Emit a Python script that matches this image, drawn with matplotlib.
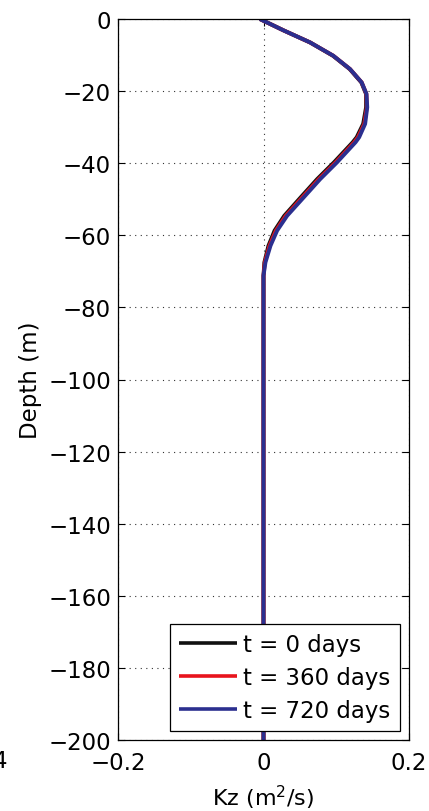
import matplotlib
matplotlib.use("Agg")
import matplotlib.pyplot as plt

plt.rcParams['font.family'] = ['DejaVu Sans']
plt.rcParams['mathtext.fontset'] = 'dejavusans'

# Depth (m) and Kz (m^2/s) profiles
depth = [0, -3.2, -6.5, -10.2, -13.9, -17.6, -20.8, -24.5, -29.1, -32.8, -34.2,
         -39.8, -44.4, -49.5, -54.6, -58.7, -62.9, -67.5, -71.2, -200]
kz_720 = [-0.005, 0.028, 0.064, 0.096, 0.119, 0.135, 0.1416, 0.1426, 0.1397, 0.1315, 0.1265,
          0.1009, 0.078, 0.0552, 0.0324, 0.0187, 0.0096, 0.0027, 0.0, 0.0]
kz_360 = [-0.005, 0.028, 0.064, 0.096, 0.119, 0.135, 0.1414, 0.1420, 0.1385, 0.1298, 0.1246,
          0.0990, 0.0760, 0.0532, 0.0305, 0.0170, 0.0082, 0.0018, 0.0, 0.0]
kz_0 = [-0.005, 0.028, 0.064, 0.0955, 0.1185, 0.1345, 0.1410, 0.1410, 0.1370, 0.1281, 0.1226,
        0.0967, 0.0738, 0.0510, 0.0285, 0.0152, 0.0068, 0.0012, 0.0, 0.0]
labels = ['t = 0 days', 't = 360 days', 't = 720 days']
colors = ['#111111', '#e8141c', '#2b2f8f']

fig = plt.figure(figsize=(4.29, 8.12), dpi=100)
ax = fig.add_axes([118/429, 1 - 741/812, (409-118)/429, (741-20)/812])

for kz, lab, c in zip([kz_0, kz_360, kz_720], labels, colors):
    ax.plot(kz, depth, color=c, lw=2.8, label=lab, solid_capstyle='butt', solid_joinstyle='round')

ax.set_xlim(-0.2, 0.2)
ax.set_ylim(-200, 0)
ax.set_xticks([-0.2, 0, 0.2])
ax.set_xticklabels(['\u22120.2', '0', '0.2'])
yt = list(range(-200, 1, 20))
ax.set_yticks(yt)
ax.set_yticklabels([('\u2212' + str(-v)) if v < 0 else str(v) for v in yt])
ax.tick_params(direction='in', top=True, right=True, labelsize=16.5, length=5, width=0.8)
ax.tick_params(axis='x', pad=8)
ax.tick_params(axis='y', pad=5)
ax.grid(True, linestyle=(0, (1, 4)), color='#333333', lw=0.8)
for s in ax.spines.values():
    s.set_linewidth(0.9)

ax.set_xlabel('Kz (m$^2$/s)', fontsize=16)
ax.xaxis.set_label_coords(0.5, (741 - 784) / 721)
ax.set_ylabel('Depth (m)', fontsize=16.5)
ax.yaxis.set_label_coords((42 - 118) / 291, 0.5)

leg = ax.legend(loc='lower right', fontsize=16.5, frameon=True, fancybox=False,
                edgecolor='black', framealpha=1.0, handlelength=2.5, handletextpad=0.3,
                borderaxespad=0.4, labelspacing=0.42, borderpad=0.4)
leg.get_frame().set_linewidth(0.9)
for ln in leg.get_lines():
    ln.set_linewidth(2.6)

fig.text(8/429, 1 - 762/812, '\u22120.4', ha='right', va='center', fontsize=16.5)

fig.savefig('out.png', dpi=100)
